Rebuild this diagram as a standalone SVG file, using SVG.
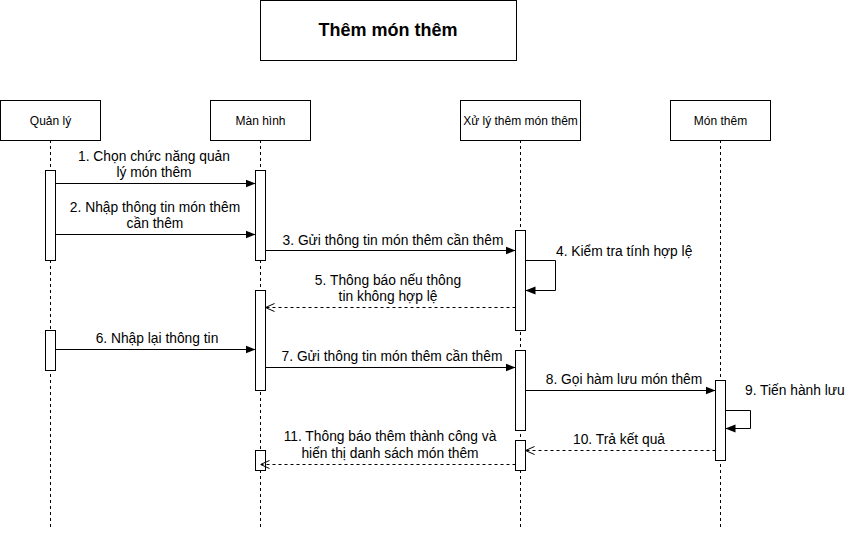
<svg xmlns="http://www.w3.org/2000/svg" width="846" height="541" viewBox="0 0 846 541">
<style>
.box{fill:#fff;stroke:#000;stroke-width:1}
.life{stroke:#000;stroke-width:1;stroke-dasharray:3 3;fill:none}
.act{fill:#fff;stroke:#000;stroke-width:1}
.msg{stroke:#000;stroke-width:1;fill:none}
.ret{stroke:#000;stroke-width:1;fill:none;stroke-dasharray:3 3}
.hd{font-family:"Liberation Sans",Arial,sans-serif;font-size:12px;fill:#000;text-anchor:middle}
.lb{font-family:"Liberation Sans",Arial,sans-serif;font-size:13.8px;fill:#000;text-anchor:middle}
.lbs{font-family:"Liberation Sans",Arial,sans-serif;font-size:13.8px;fill:#000;text-anchor:start}
.title{font-family:"Liberation Sans",Arial,sans-serif;font-size:18px;font-weight:bold;fill:#000;text-anchor:middle}
</style>
<defs>
<marker id="fill" viewBox="0 0 10 10" refX="10" refY="5" markerWidth="10" markerHeight="10" markerUnits="userSpaceOnUse" orient="auto">
<path d="M0,1 L10,5 L0,9 Z" fill="#000"/>
</marker>
<marker id="open" viewBox="0 0 10 10" refX="10" refY="5" markerWidth="10" markerHeight="10" markerUnits="userSpaceOnUse" orient="auto">
<path d="M1,1 L10,5 L1,9" fill="none" stroke="#000" stroke-width="1"/>
</marker>
</defs>
<rect width="846" height="541" fill="#fff"/>
<g id="title"><rect class="box" x="260.5" y="0.5" width="256" height="60"/><text class="title" x="388" y="36">Thêm món thêm</text></g>
<g id="quanly">
<line class="life" x1="50.5" y1="140" x2="50.5" y2="528"/>
<rect class="box" x="0.5" y="100.5" width="100" height="40"/>
<text class="hd" x="50.5" y="124.5">Quản lý</text>
<rect class="act" x="45.5" y="170.5" width="10" height="90"/>
<rect class="act" x="45.5" y="330.5" width="10" height="40"/>
</g>
<g id="manhinh">
<line class="life" x1="260.5" y1="140" x2="260.5" y2="528"/>
<rect class="box" x="210.5" y="100.5" width="100" height="40"/>
<text class="hd" x="260.5" y="124.5">Màn hình</text>
<rect class="act" x="255.5" y="170.5" width="10" height="90"/>
<rect class="act" x="255.5" y="290.5" width="10" height="100"/>
<rect class="act" x="255.5" y="450.5" width="10" height="20"/>
</g>
<g id="xuly">
<line class="life" x1="520.5" y1="140" x2="520.5" y2="528"/>
<rect class="box" x="460.5" y="100.5" width="120" height="40"/>
<text class="hd" x="520.5" y="124.5">Xử lý thêm món thêm</text>
<rect class="act" x="515.5" y="230.5" width="10" height="100"/>
<rect class="act" x="515.5" y="350.5" width="10" height="80"/>
<rect class="act" x="515.5" y="440.5" width="10" height="30"/>
</g>
<g id="monthem">
<line class="life" x1="720.5" y1="140" x2="720.5" y2="528"/>
<rect class="box" x="670.5" y="100.5" width="100" height="40"/>
<text class="hd" x="720.5" y="124.5">Món thêm</text>
<rect class="act" x="715.5" y="380.5" width="10" height="80"/>
</g>
<g id="connectors">
<line class="msg" x1="55.5" y1="183.5" x2="255.5" y2="183.5" marker-end="url(#fill)"/>
<text class="lb" x="154" y="161">1. Chọn chức năng quản</text>
<text class="lb" x="154" y="177">lý món thêm</text>
<line class="msg" x1="55.5" y1="234.5" x2="255.5" y2="234.5" marker-end="url(#fill)"/>
<text class="lb" x="155" y="212">2. Nhập thông tin món thêm</text>
<text class="lb" x="155" y="228">cần thêm</text>
<line class="msg" x1="265.5" y1="250.5" x2="515.5" y2="250.5" marker-end="url(#fill)"/>
<text class="lb" x="393" y="245">3. Gửi thông tin món thêm cần thêm</text>
<path class="msg" d="M525.5,260.5 H555.5 V290.5 H525.5" marker-end="url(#fill)"/>
<text class="lbs" x="556" y="256">4. Kiểm tra tính hợp lệ</text>
<line class="ret" x1="515.5" y1="307.5" x2="265.5" y2="307.5" marker-end="url(#open)"/>
<text class="lb" x="388" y="285">5. Thông báo nếu thông</text>
<text class="lb" x="388" y="301">tin không hợp lệ</text>
<line class="msg" x1="55.5" y1="349.5" x2="255.5" y2="349.5" marker-end="url(#fill)"/>
<text class="lb" x="157" y="343">6. Nhập lại thông tin</text>
<line class="msg" x1="265.5" y1="367.5" x2="515.5" y2="367.5" marker-end="url(#fill)"/>
<text class="lb" x="392" y="361">7. Gửi thông tin món thêm cần thêm</text>
<line class="msg" x1="525.5" y1="390.5" x2="715.5" y2="390.5" marker-end="url(#fill)"/>
<text class="lb" x="624" y="384">8. Gọi hàm lưu món thêm</text>
<path class="msg" d="M725.5,410.5 H750.5 V428.5 H725.5" marker-end="url(#fill)"/>
<text class="lbs" x="745" y="395">9. Tiến hành lưu</text>
<line class="ret" x1="715.5" y1="450.5" x2="525.5" y2="450.5" marker-end="url(#open)"/>
<text class="lb" x="619" y="444">10. Trả kết quả</text>
<line class="ret" x1="515.5" y1="464.5" x2="260.5" y2="464.5" marker-end="url(#open)"/>
<text class="lb" x="390" y="441">11. Thông báo thêm thành công và</text>
<text class="lb" x="390" y="458">hiển thị danh sách món thêm</text>
</g>
</svg>
